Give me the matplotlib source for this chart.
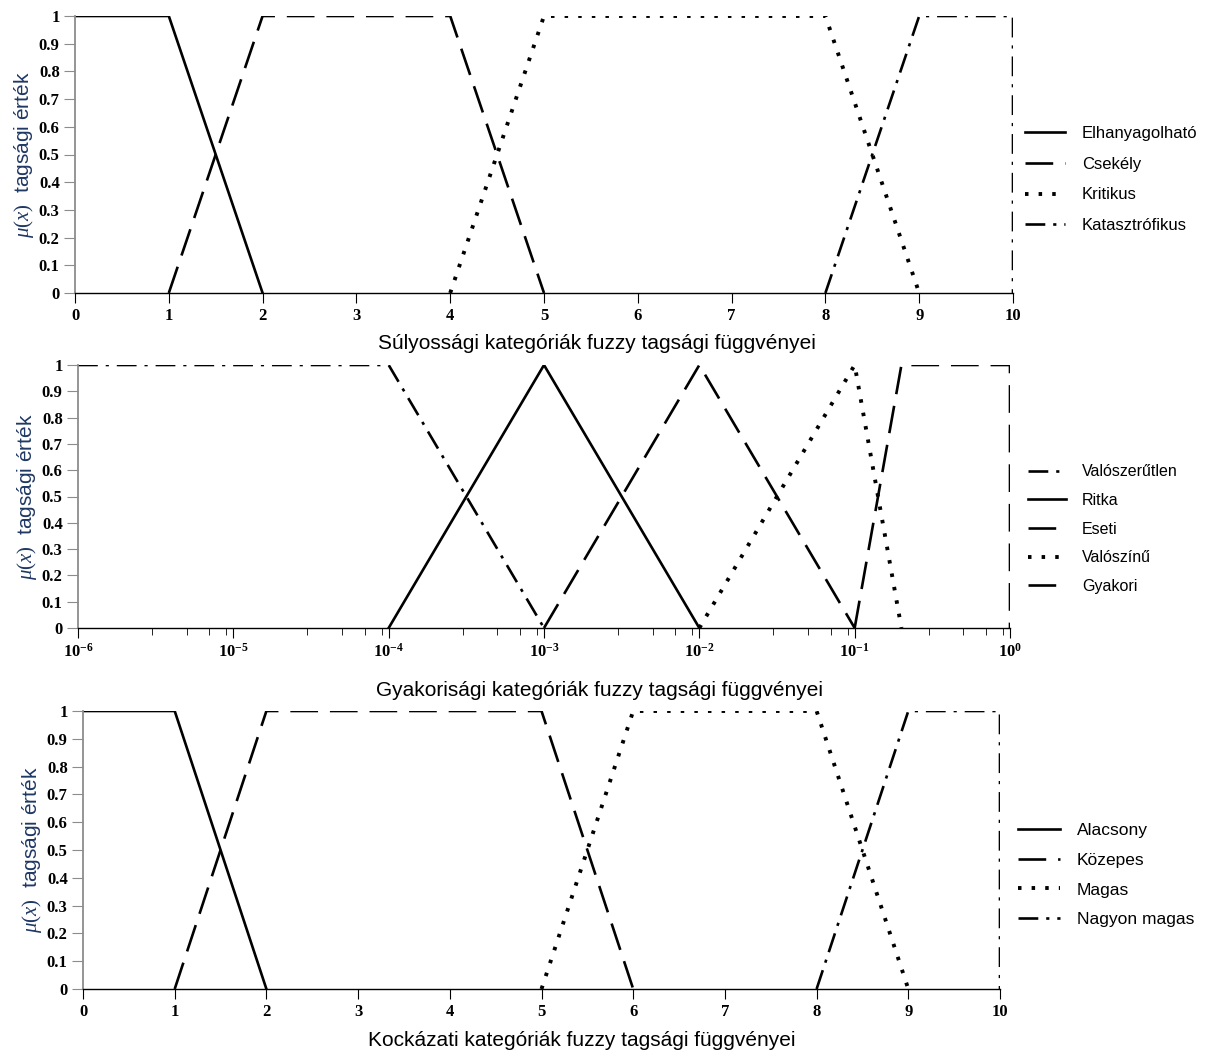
import math
import matplotlib
matplotlib.use("Agg")
import matplotlib.pyplot as plt
from matplotlib.ticker import FixedLocator, FuncFormatter, NullFormatter

plt.rcParams["mathtext.fontset"] = "custom"
plt.rcParams["mathtext.rm"] = "Liberation Serif"
plt.rcParams["mathtext.it"] = "Liberation Serif:italic"
plt.rcParams["mathtext.bf"] = "Liberation Serif:bold"

# --- adatok ---
sev_labels = ["Elhanyagolható", "Csekély", "Kritikus", "Katasztrófikus"]
sev_x = [[0, 1, 2], [1, 2, 4, 5], [4, 5, 8, 9], [8, 9, 10, 10]]
sev_y = [[1, 1, 0], [0, 1, 1, 0], [0, 1, 1, 0], [0, 1, 1, 0]]

freq_labels = ["Valószerűtlen", "Ritka", "Eseti", "Valószínű", "Gyakori"]
freq_x = [[1e-6, 1e-4, 1e-3], [1e-4, 1e-3, 1e-2], [1e-3, 1e-2, 1e-1],
          [1e-2, 1e-1, 0.2], [0.1, 0.2, 1, 1]]
freq_y = [[1, 1, 0], [0, 1, 0], [0, 1, 0], [0, 1, 0], [0, 1, 1, 0]]
freq_major = [1e-6, 1e-5, 1e-4, 1e-3, 1e-2, 1e-1, 1]

risk_labels = ["Alacsony", "Közepes", "Magas", "Nagyon magas"]
risk_x = [[0, 1, 2], [1, 2, 5, 6], [5, 6, 8, 9], [8, 9, 10, 10]]
risk_y = [[1, 1, 0], [0, 1, 1, 0], [0, 1, 1, 0], [0, 1, 1, 0]]

y_ticks = [0, 0.1, 0.2, 0.3, 0.4, 0.5, 0.6, 0.7, 0.8, 0.9, 1]
y_ticklabels = ["0", "0.1", "0.2", "0.3", "0.4", "0.5", "0.6", "0.7", "0.8", "0.9", "1"]

# vonalstílusok
LW = 1.9
SOLID = "-"
DASH = (0, (10.5, 4.5))
DOT = (0, (0.9, 2.6))
DASHDOT = (0, (7.5, 3, 1.2, 3))

W, H = 1205, 1055
fig = plt.figure(figsize=(W / 100, H / 100), dpi=100)


def ax_px(x0, x1, ytop, ybot):
    return fig.add_axes([x0 / W, 1 - ybot / H, (x1 - x0) / W, (ybot - ytop) / H])


def draw(ax, xs_list, ys_list, styles, labels):
    for xs, ys, ls, lab in zip(xs_list, ys_list, styles, labels):
        lw = 2.8 if ls == DOT else LW
        ax.plot(xs, ys, color="black", lw=lw, linestyle=ls, label=lab)


def style(ax, xlabel, xlab_x, xlab_pad):
    for s in ["top", "right"]:
        ax.spines[s].set_visible(False)
    ax.spines["left"].set_color("#8c8c8c")
    ax.spines["left"].set_linewidth(1.3)
    ax.spines["bottom"].set_linewidth(1.0)
    ax.set_ylim(0, 1)
    ax.set_yticks(y_ticks)
    ax.set_yticklabels(y_ticklabels)
    for lab in ax.get_yticklabels() + ax.get_xticklabels():
        lab.set_fontfamily("Liberation Serif")
        lab.set_fontweight("bold")
        lab.set_fontsize(12)
    ax.tick_params(axis="y", direction="out", length=8, pad=3, color="#8c8c8c")
    ax.tick_params(axis="x", direction="out", length=7, pad=4)
    ax.set_xlabel(xlabel, fontsize=15, family="Liberation Sans", labelpad=xlab_pad)
    ax.xaxis.label.set_x(xlab_x)
    ax.set_ylabel(r"$\mu(x)$  tagsági érték", fontsize=15, color="#1f3864",
                  family="Liberation Sans", labelpad=2)


def legend(ax, x, y, size, spacing):
    ax.legend(loc="center left", bbox_to_anchor=(x, y), frameon=False,
              borderpad=0, borderaxespad=0, handlelength=2.4, handletextpad=1.0,
              labelspacing=spacing, prop={"family": "Liberation Sans", "size": size})


# --- felső ---
ax1 = ax_px(75, 1013, 16, 293)
draw(ax1, sev_x, sev_y, [SOLID, DASH, DOT, DASHDOT], sev_labels)
ax1.set_xlim(0, 10)
ax1.set_xticks(range(0, 11))
style(ax1, "Súlyossági kategóriák fuzzy tagsági függvényei", 0.556, 7)
legend(ax1, 1.013, 0.41, 12, 0.95)

# --- középső ---
ax2 = ax_px(78, 1010, 365, 628)
draw(ax2, freq_x, freq_y, [DASHDOT, SOLID, DASH, DOT, DASH], freq_labels)
ax2.set_xscale("log")
ax2.set_xlim(1e-6, 1)
ax2.xaxis.set_major_locator(FixedLocator(freq_major))
ax2.xaxis.set_major_formatter(
    FuncFormatter(lambda v, p: r"$\mathbf{10}^{\mathbf{%d}}$" % round(math.log10(v))))
minor = [d * m for d in freq_major[:-1] for m in (3, 5, 7, 9)]
ax2.xaxis.set_minor_locator(FixedLocator(minor))
ax2.xaxis.set_minor_formatter(NullFormatter())
ax2.tick_params(axis="x", which="minor", direction="out", length=5)
style(ax2, "Gyakorisági kategóriák fuzzy tagsági függvényei", 0.56, 14)
legend(ax2, 1.019, 0.376, 11.5, 0.85)

# --- alsó ---
ax3 = ax_px(83, 1000, 711, 989)
draw(ax3, risk_x, risk_y, [SOLID, DASH, DOT, DASHDOT], risk_labels)
ax3.set_xlim(0, 10)
ax3.set_xticks(range(0, 11))
style(ax3, "Kockázati kategóriák fuzzy tagsági függvényei", 0.544, 8)
legend(ax3, 1.0196, 0.41, 12.5, 0.85)

fig.savefig("out.png", dpi=100)
